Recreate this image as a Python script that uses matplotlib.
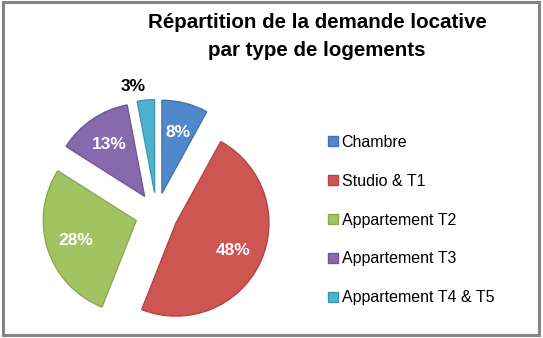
import numpy as np
import matplotlib
matplotlib.use("Agg")
import matplotlib.pyplot as plt
from matplotlib.patches import Rectangle

# data
categories = ["Chambre", "Studio & T1", "Appartement T2", "Appartement T3", "Appartement T4 & T5"]
shares = [8, 48, 28, 13, 3]
colors = ["#5089CB", "#CD5652", "#A3C262", "#8769AE", "#4DB2CE"]
edges = ["#4474AD", "#B04744", "#8CA952", "#715795", "#3E98B2"]

plt.rcParams["font.family"] = ["Liberation Sans", "DejaVu Sans"]

W, H = 543, 338
fig = plt.figure(figsize=(W / 100, H / 100), dpi=100)

# pie axes: centre at (156.6, 214) px, radius 93 px
r_px = 93
lim = 1.4
size = 2 * lim * r_px
cx, cy = 156.6, H - 214
ax = fig.add_axes([(cx - size / 2) / W, (cy - size / 2) / H, size / W, size / H])

wedges, texts, autotexts = ax.pie(
    shares, colors=colors, startangle=90, counterclock=False,
    explode=[0.23] * len(shares), autopct="%d%%", pctdistance=0.68,
    wedgeprops=dict(linewidth=1.0), textprops=dict(color="white", fontsize=12.5, fontweight="bold"),
)
ax.set_xlim(-lim, lim)
ax.set_ylim(-lim, lim)
ax.set_aspect("equal")
ax.axis("off")
for w, ec in zip(wedges, edges):
    w.set_edgecolor(ec)

# small slice label goes outside, in black
small = int(np.argmin(shares))
w = wedges[small]
ang = np.deg2rad((w.theta1 + w.theta2) / 2 + 5)
autotexts[small].set_position((1.39 * np.cos(ang), 1.39 * np.sin(ang)))
autotexts[small].set_color("black")
autotexts[small].set_clip_on(False)

fig.text(317 / W, 1 - 36 / H, "Répartition de la demande locative\npar type de logements",
         ha="center", va="center", fontsize=14.8, fontweight="bold", linespacing=1.6)

leg = fig.legend(wedges, categories, loc="center left", bbox_to_anchor=(328 / W, (H - 220) / H),
                 frameon=False, fontsize=11.5, handlelength=0.6, handleheight=0.6,
                 handletextpad=0.25, labelspacing=1.5, borderpad=0, borderaxespad=0)

fig.patches.append(Rectangle((3 / W, 3 / H), 536 / W, 333 / H, transform=fig.transFigure,
                             fill=False, edgecolor="#858585", linewidth=2.2))

fig.savefig("out.png", dpi=100)
